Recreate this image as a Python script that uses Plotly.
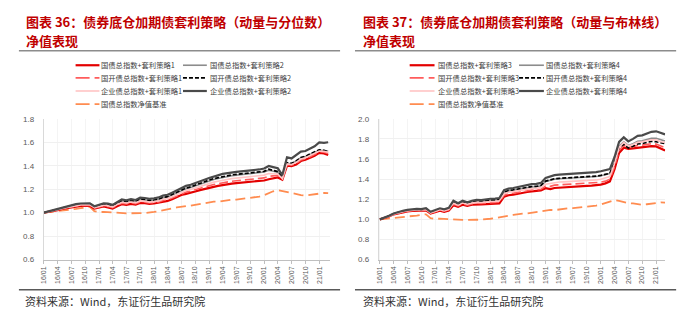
import pandas as pd
import plotly.graph_objects as go

W, H = 700, 322

# Monthly observation dates, Jan 2016 - Mar 2021
dates = pd.date_range("2016-01-01", periods=63, freq="MS")
tick_dates = pd.date_range("2016-01-01", "2021-01-01", freq="QS")
tick_labels = ["16/01", "16/04", "16/07", "16/10", "17/01", "17/04", "17/07", "17/10",
               "18/01", "18/04", "18/07", "18/10", "19/01", "19/04", "19/07", "19/10",
               "20/01", "20/04", "20/07", "20/10", "21/01"]

# Treasury index net value benchmark (shared by both panels)
benchmark = [1.000, 1.004, 1.008, 1.012, 1.016, 1.020, 1.026, 1.032, 1.038, 1.045,
             1.050, 1.012, 1.004, 1.007, 1.004, 0.999, 0.995, 0.992, 0.994, 0.995,
             0.993, 0.996, 0.997, 0.999, 1.006, 1.013, 1.022, 1.030, 1.037, 1.044,
             1.052, 1.056, 1.059, 1.066, 1.075, 1.083, 1.089, 1.094, 1.092, 1.099,
             1.106, 1.110, 1.111, 1.115, 1.120, 1.125, 1.130, 1.137, 1.148, 1.165,
             1.182, 1.192, 1.184, 1.172, 1.162, 1.158, 1.150, 1.145, 1.150, 1.158,
             1.164, 1.168, 1.166]

# ---- Chart 36: momentum & quantile strategies ----
gz_s1 = [1.000, 1.006, 1.013, 1.022, 1.032, 1.040, 1.048, 1.053, 1.058, 1.060,
         1.058, 1.035, 1.045, 1.052, 1.045, 1.035, 1.055, 1.072, 1.066, 1.075,
         1.068, 1.082, 1.080, 1.074, 1.078, 1.084, 1.095, 1.100, 1.115, 1.132,
         1.150, 1.160, 1.168, 1.180, 1.192, 1.203, 1.212, 1.220, 1.228, 1.236,
         1.242, 1.247, 1.252, 1.256, 1.260, 1.263, 1.266, 1.270, 1.274, 1.285,
         1.292, 1.300, 1.280, 1.400, 1.396, 1.410, 1.440, 1.450, 1.468, 1.485,
         1.510, 1.505, 1.492]
gz_s2 = [1.000, 1.008, 1.016, 1.027, 1.038, 1.048, 1.058, 1.064, 1.070, 1.074,
         1.072, 1.046, 1.060, 1.070, 1.066, 1.056, 1.077, 1.097, 1.091, 1.101,
         1.093, 1.112, 1.108, 1.100, 1.104, 1.111, 1.126, 1.133, 1.150, 1.170,
         1.190, 1.204, 1.214, 1.228, 1.245, 1.258, 1.271, 1.283, 1.291, 1.301,
         1.309, 1.315, 1.320, 1.324, 1.328, 1.330, 1.334, 1.340, 1.346, 1.362,
         1.356, 1.345, 1.295, 1.420, 1.415, 1.438, 1.468, 1.478, 1.498, 1.512,
         1.532, 1.530, 1.525]
gk_s1 = [1.000, 1.006, 1.014, 1.024, 1.034, 1.043, 1.051, 1.057, 1.062, 1.065,
         1.063, 1.039, 1.050, 1.058, 1.052, 1.042, 1.062, 1.080, 1.074, 1.083,
         1.076, 1.091, 1.088, 1.082, 1.086, 1.092, 1.104, 1.110, 1.125, 1.143,
         1.161, 1.175, 1.184, 1.196, 1.210, 1.220, 1.230, 1.240, 1.247, 1.256,
         1.263, 1.268, 1.272, 1.276, 1.280, 1.283, 1.286, 1.290, 1.296, 1.310,
         1.316, 1.318, 1.286, 1.408, 1.404, 1.418, 1.448, 1.458, 1.477, 1.494,
         1.518, 1.514, 1.505]
gk_s2 = [1.000, 1.008, 1.017, 1.028, 1.040, 1.050, 1.060, 1.066, 1.072, 1.076,
         1.074, 1.048, 1.062, 1.072, 1.068, 1.058, 1.080, 1.100, 1.094, 1.104,
         1.096, 1.115, 1.112, 1.104, 1.108, 1.115, 1.130, 1.137, 1.155, 1.175,
         1.195, 1.210, 1.220, 1.235, 1.252, 1.265, 1.278, 1.290, 1.298, 1.308,
         1.316, 1.322, 1.326, 1.330, 1.334, 1.336, 1.340, 1.346, 1.352, 1.370,
         1.362, 1.350, 1.300, 1.425, 1.420, 1.440, 1.470, 1.480, 1.500, 1.515,
         1.535, 1.530, 1.520]
qy_s1 = [1.000, 1.007, 1.015, 1.025, 1.036, 1.045, 1.054, 1.060, 1.066, 1.069,
         1.067, 1.042, 1.054, 1.063, 1.058, 1.048, 1.068, 1.088, 1.082, 1.091,
         1.084, 1.100, 1.097, 1.090, 1.094, 1.100, 1.114, 1.120, 1.136, 1.155,
         1.173, 1.188, 1.198, 1.211, 1.226, 1.238, 1.250, 1.260, 1.268, 1.277,
         1.285, 1.290, 1.294, 1.298, 1.302, 1.305, 1.308, 1.313, 1.320, 1.334,
         1.335, 1.330, 1.290, 1.415, 1.410, 1.428, 1.458, 1.468, 1.488, 1.503,
         1.525, 1.522, 1.515]
qy_s2 = [1.000, 1.010, 1.020, 1.033, 1.045, 1.055, 1.065, 1.072, 1.078, 1.082,
         1.080, 1.055, 1.070, 1.080, 1.078, 1.066, 1.090, 1.112, 1.105, 1.115,
         1.108, 1.128, 1.125, 1.118, 1.122, 1.130, 1.145, 1.152, 1.170, 1.190,
         1.215, 1.228, 1.238, 1.250, 1.268, 1.280, 1.295, 1.310, 1.318, 1.330,
         1.338, 1.343, 1.348, 1.352, 1.355, 1.358, 1.362, 1.368, 1.376, 1.398,
         1.388, 1.378, 1.320, 1.472, 1.462, 1.490, 1.520, 1.525, 1.545, 1.565,
         1.598, 1.595, 1.600]

# ---- Chart 37: momentum & Bollinger strategies ----
gz_s3 = [1.000, 1.012, 1.029, 1.050, 1.062, 1.072, 1.080, 1.085, 1.088, 1.085,
         1.090, 1.058, 1.075, 1.085, 1.075, 1.088, 1.140, 1.125, 1.145, 1.135,
         1.145, 1.150, 1.148, 1.152, 1.155, 1.155, 1.158, 1.225, 1.240, 1.245,
         1.255, 1.265, 1.272, 1.278, 1.280, 1.288, 1.310, 1.300, 1.312, 1.316,
         1.319, 1.321, 1.324, 1.327, 1.330, 1.333, 1.336, 1.340, 1.346, 1.358,
         1.378, 1.500, 1.660, 1.712, 1.700, 1.705, 1.710, 1.712, 1.720, 1.728,
         1.725, 1.700, 1.685]
gz_s4 = [1.000, 1.014, 1.033, 1.055, 1.069, 1.080, 1.089, 1.094, 1.098, 1.095,
         1.103, 1.068, 1.088, 1.102, 1.092, 1.106, 1.170, 1.149, 1.171, 1.158,
         1.171, 1.180, 1.177, 1.185, 1.189, 1.190, 1.195, 1.268, 1.283, 1.289,
         1.297, 1.309, 1.317, 1.322, 1.324, 1.333, 1.376, 1.388, 1.400, 1.404,
         1.406, 1.408, 1.410, 1.413, 1.415, 1.417, 1.419, 1.426, 1.433, 1.445,
         1.455, 1.575, 1.728, 1.770, 1.735, 1.752, 1.775, 1.780, 1.792, 1.805,
         1.806, 1.790, 1.778]
gk_s3 = [1.000, 1.012, 1.030, 1.051, 1.064, 1.074, 1.082, 1.087, 1.091, 1.088,
         1.094, 1.061, 1.079, 1.091, 1.081, 1.094, 1.150, 1.133, 1.153, 1.142,
         1.153, 1.160, 1.157, 1.163, 1.166, 1.167, 1.171, 1.240, 1.255, 1.261,
         1.268, 1.279, 1.286, 1.291, 1.293, 1.300, 1.330, 1.328, 1.340, 1.343,
         1.345, 1.347, 1.349, 1.352, 1.354, 1.356, 1.358, 1.363, 1.369, 1.380,
         1.400, 1.525, 1.685, 1.735, 1.715, 1.722, 1.735, 1.738, 1.745, 1.752,
         1.748, 1.730, 1.712]
gk_s4 = [1.000, 1.014, 1.033, 1.056, 1.070, 1.081, 1.090, 1.096, 1.100, 1.097,
         1.105, 1.070, 1.090, 1.104, 1.094, 1.108, 1.173, 1.151, 1.174, 1.161,
         1.174, 1.183, 1.180, 1.188, 1.192, 1.193, 1.198, 1.272, 1.287, 1.293,
         1.301, 1.313, 1.321, 1.326, 1.328, 1.337, 1.380, 1.392, 1.404, 1.408,
         1.410, 1.412, 1.414, 1.417, 1.419, 1.421, 1.423, 1.430, 1.437, 1.448,
         1.458, 1.565, 1.712, 1.745, 1.710, 1.726, 1.750, 1.755, 1.764, 1.775,
         1.772, 1.758, 1.752]
qy_s3 = [1.000, 1.013, 1.031, 1.053, 1.066, 1.077, 1.085, 1.090, 1.094, 1.091,
         1.098, 1.064, 1.083, 1.096, 1.086, 1.099, 1.160, 1.141, 1.162, 1.150,
         1.162, 1.170, 1.167, 1.174, 1.178, 1.179, 1.184, 1.255, 1.270, 1.276,
         1.283, 1.294, 1.301, 1.306, 1.308, 1.316, 1.350, 1.358, 1.368, 1.371,
         1.373, 1.375, 1.377, 1.380, 1.382, 1.384, 1.386, 1.392, 1.399, 1.410,
         1.425, 1.555, 1.715, 1.765, 1.730, 1.745, 1.765, 1.770, 1.780, 1.792,
         1.790, 1.772, 1.765]
qy_s4 = [1.000, 1.015, 1.035, 1.058, 1.074, 1.085, 1.094, 1.100, 1.104, 1.101,
         1.110, 1.075, 1.095, 1.110, 1.100, 1.115, 1.185, 1.160, 1.185, 1.170,
         1.185, 1.195, 1.192, 1.200, 1.205, 1.206, 1.212, 1.290, 1.305, 1.312,
         1.322, 1.335, 1.345, 1.350, 1.352, 1.362, 1.412, 1.426, 1.440, 1.445,
         1.448, 1.450, 1.452, 1.455, 1.458, 1.460, 1.462, 1.470, 1.478, 1.490,
         1.500, 1.620, 1.770, 1.815, 1.775, 1.800, 1.830, 1.835, 1.850, 1.870,
         1.875, 1.858, 1.845]

left_names = ["国债总指数+套利策略1", "国债总指数+套利策略2", "国开债总指数+套利策略1",
              "国开债总指数+套利策略2", "企业债总指数+套利策略1", "企业债总指数+套利策略2"]
right_names = ["国债总指数+套利策略3", "国债总指数+套利策略4", "国开债总指数+套利策略3",
               "国开债总指数+套利策略4", "企业债总指数+套利策略3", "企业债总指数+套利策略4"]
bench_name = "国债总指数净值基准"
left_series = [gz_s1, gz_s2, gk_s1, gk_s2, qy_s1, qy_s2]
right_series = [gz_s3, gz_s4, gk_s3, gk_s4, qy_s3, qy_s4]

# line styles: (colour, width, plot dash, legend-sample dash)
styles = [
    ("#E30000", 2.2, "solid", "solid"),
    ("#8C8C8C", 1.6, "solid", "solid"),
    ("#FF5C5C", 1.6, "9px,4px", "14px,5px"),
    ("#000000", 1.7, "4px,2px", "4px,2px"),
    ("#FFC4C4", 1.6, "solid", "solid"),
    ("#4A4A4A", 2.2, "solid", "solid"),
]
bench_style = ("#FF8C50", 1.8, "10px,5px", "14px,5px")

FONT_CJK = "Noto Sans CJK SC"
FONT_NUM = "Liberation Sans, Arial, sans-serif"


def px(x):
    return x / W


def py(y):
    return 1 - y / H


panels = [
    dict(xa="x", ya="y", names=left_names, series=left_series,
         title="图表 36：债券底仓加期债套利策略（动量与分位数）",
         title_x=20, rule=(15, 338), leg_cols=((72, 96, 96), (180, 204, 205)),
         src_x=19),
    dict(xa="x2", ya="y2", names=right_names, series=right_series,
         title="图表 37：债券底仓加期债套利策略（动量与布林线）",
         title_x=359, rule=(353, 676), leg_cols=((408, 433, 434), (518, 543, 543)),
         src_x=359),
]

fig = go.Figure()
shapes = []
annotations = []
legend_rows = [63, 76, 89.5, 103]

for p in panels:
    fig.add_trace(go.Scatter(x=dates, y=benchmark, mode="lines", name=bench_name,
                             line=dict(color=bench_style[0], width=bench_style[1], dash=bench_style[2]),
                             xaxis=p["xa"], yaxis=p["ya"], showlegend=False))
    for name, vals, st in zip(p["names"], p["series"], styles):
        fig.add_trace(go.Scatter(x=dates, y=vals, mode="lines", name=name,
                                 line=dict(color=st[0], width=st[1], dash=st[2]),
                                 xaxis=p["xa"], yaxis=p["ya"], showlegend=False))

    # legend: two columns (strategy A / strategy B), benchmark below column one
    entries = []
    for i, (name, st) in enumerate(zip(p["names"], styles)):
        entries.append((i % 2, i // 2, name, st))
    entries.append((0, 3, bench_name, bench_style))
    for col, row, name, st in entries:
        x0, x1, xt = p["leg_cols"][col]
        yy = py(legend_rows[row])
        shapes.append(dict(type="line", xref="paper", yref="paper", x0=px(x0), x1=px(x1),
                           y0=yy, y1=yy, line=dict(color=st[0], width=st[1], dash=st[3])))
        annotations.append(dict(text=name, xref="paper", yref="paper", x=px(xt), y=yy,
                                xanchor="left", yanchor="middle", showarrow=False,
                                font=dict(family=FONT_CJK, size=7.3, color="#404040")))

    # title block
    annotations.append(dict(text="<b>" + p["title"] + "</b>", xref="paper", yref="paper",
                            x=px(p["title_x"]), y=py(18), xanchor="left", yanchor="middle",
                            showarrow=False, font=dict(family=FONT_CJK, size=13, color="#C00000")))
    annotations.append(dict(text="<b>净值表现</b>", xref="paper", yref="paper",
                            x=px(p["title_x"]), y=py(38), xanchor="left", yanchor="middle",
                            showarrow=False, font=dict(family=FONT_CJK, size=13, color="#C00000")))
    r0, r1 = p["rule"]
    shapes.append(dict(type="line", xref="paper", yref="paper", x0=px(r0), x1=px(r1),
                       y0=py(48), y1=py(48), line=dict(color="#8C8C8C", width=1.5)))
    shapes.append(dict(type="line", xref="paper", yref="paper", x0=px(r0), x1=px(r1),
                       y0=py(294), y1=py(294), line=dict(color="#595959", width=1.5)))
    annotations.append(dict(text="资料来源：Wind，东证衍生品研究院", xref="paper", yref="paper",
                            x=px(p["src_x"]), y=py(306), xanchor="left", yanchor="middle",
                            showarrow=False, font=dict(family=FONT_CJK, size=11, color="#333333")))


def xaxis_cfg(domain, rng):
    return dict(domain=domain, type="date", range=rng, tickmode="array",
                tickvals=list(tick_dates), ticktext=tick_labels, tickangle=-90,
                tickfont=dict(family=FONT_NUM, size=7, color="#595959"),
                ticks="outside", ticklen=3, tickcolor="#BFBFBF",
                showline=True, linecolor="#BFBFBF", linewidth=1,
                showgrid=True, gridcolor="#F4F4F4", zeroline=False, fixedrange=True)


def yaxis_cfg(domain, top):
    vals = [round(0.6 + 0.2 * k, 1) for k in range(int(round((top - 0.6) / 0.2)) + 1)]
    return dict(domain=domain, range=[0.5995, top + 0.0005], tickmode="array",
                tickvals=vals, ticktext=[f"{v:.1f}" for v in vals],
                tickfont=dict(family=FONT_NUM, size=8, color="#595959"),
                ticks="", ticklabelstandoff=7,
                showline=True, linecolor="#D9D9D9", linewidth=1,
                showgrid=True, gridcolor="#F0F0F0", zeroline=False, fixedrange=True)


ydom = [py(263), py(118)]
fig.update_layout(
    width=W, height=H,
    margin=dict(l=0, r=0, t=0, b=0),
    paper_bgcolor="white", plot_bgcolor="white",
    showlegend=False,
    xaxis=dict(anchor="y", **xaxis_cfg([px(40), px(328)], ["2015-12-31 12:00", "2021-03-14"])),
    yaxis=dict(anchor="x", **yaxis_cfg(ydom, 1.8)),
    xaxis2=dict(anchor="y2", **xaxis_cfg([px(377), px(665)], ["2015-12-25", "2021-03-02"])),
    yaxis2=dict(anchor="x2", **yaxis_cfg(ydom, 2.0)),
    shapes=shapes,
    annotations=annotations,
)

fig.write_html("out.html")
